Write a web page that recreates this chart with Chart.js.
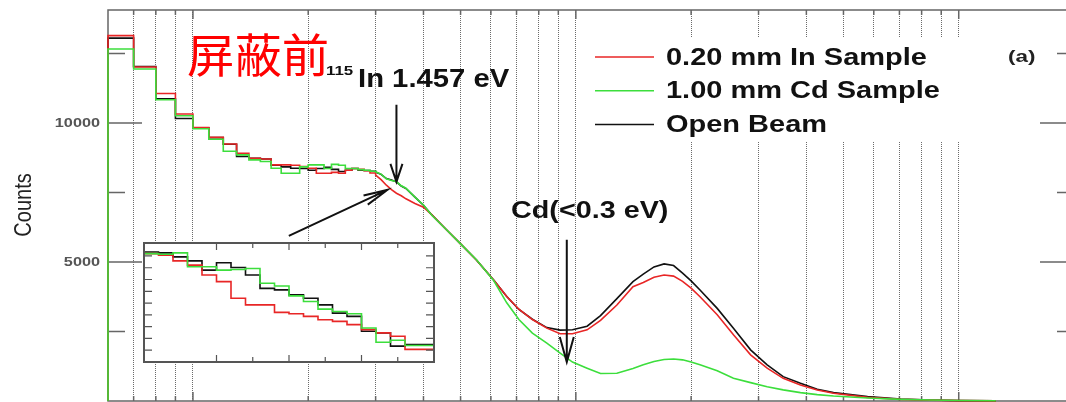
<!DOCTYPE html>
<html lang="zh">
<head>
    <meta charset="UTF-8">
    <title>屏蔽前 Counts</title>
    <script src="https://cdn.jsdelivr.net/npm/chart.js"></script>
    <style>
        body { margin: 0; padding: 0; background: #fff; overflow: hidden; }
        .main { position: relative; width: 1080px; height: 402px; }
        .inset { position: absolute; left: 143px; top: 242px; width: 293px; height: 121px; background: #fff; }
    </style>
</head>
<body>
    <div class="main"><canvas id="spectrum"></canvas></div>
    <div class="inset"><canvas id="zoomChart"></canvas></div>

    <script>
        // histogram bins (width 0.1) on the left part of the spectrum
        const binEdges = [0.6, 0.7, 0.8, 0.9, 1.0, 1.1, 1.2, 1.3, 1.4, 1.5, 1.6, 1.7, 1.8, 1.9,
            2.0, 2.1, 2.2, 2.3, 2.4, 2.5, 2.6, 2.7, 2.8, 2.9, 3.0];
        const redBins = [13140, 12010, 11060, 10320, 9830, 9480, 9240, 8910, 8730, 8700, 8490, 8490,
            8480, 8430, 8370, 8190, 8190, 8220, 8190, 8300, 8360, 8330, 8280, 8200];
        const greenBins = [12660, 11940, 10830, 10260, 9790, 9410, 8980, 8850, 8670, 8610, 8370, 8190,
            8190, 8420, 8490, 8490, 8360, 8510, 8480, 8360, 8360, 8320, 8300, 8260];
        const blackBins = [13050, 12030, 10870, 10160, 9820, 9470, 9230, 8790, 8730, 8700, 8480, 8420,
            8370, 8360, 8300, 8360, 8400, 8330, 8250, 8300, 8360, 8300, 8290, 8260];

        // finer part, read as a curve
        const tailX = [3.0, 3.1, 3.2, 3.3, 3.4, 3.5, 3.6, 3.8, 4.0, 4.2, 4.6, 5.0, 5.5, 6.1, 6.6, 7.1,
            7.7, 8.4, 9.1, 9.8, 10.7, 11.6, 12.8, 14.1, 15, 16, 17, 18, 19, 20, 21.1, 23.4, 25.8,
            28.6, 31.6, 34.8, 38.6, 42.7, 47.1, 57.8, 70.5, 84.5, 101, 125];
        const redTail = [8120, 7960, 7760, 7600, 7470, 7380, 7270, 7100, 6970, 6700, 6150, 5650, 5070,
            4350, 3760, 3300, 2930, 2620, 2420, 2420, 2560, 2900, 3450, 4110, 4260, 4450, 4530, 4490,
            4300, 4060, 3750, 3100, 2380, 1660, 1180, 815, 575, 395, 276, 132, 60, 30, 15, 5];
        const greenTail = [8240, 8160, 7990, 7930, 7890, 7740, 7650, 7330, 7050, 6690, 6150, 5650, 5080,
            4330, 3530, 2930, 2440, 2080, 1720, 1400, 1180, 990, 1000, 1170, 1300, 1420, 1490, 1510,
            1480, 1400, 1300, 1090, 820, 660, 515, 400, 300, 230, 180, 108, 60, 35, 20, 8];
        const blackTail = [8230, 8150, 8000, 7950, 7880, 7730, 7640, 7330, 7040, 6700, 6150, 5650, 5070,
            4350, 3760, 3290, 2940, 2640, 2550, 2560, 2690, 3070, 3680, 4290, 4560, 4820, 4930, 4870,
            4600, 4320, 3990, 3330, 2620, 1840, 1300, 875, 635, 420, 300, 156, 72, 35, 15, 5];

        // inset: zoom on the 115In dip, 20 bins
        const insetRed = [8292, 8320, 8306, 8258, 8222, 8138, 8082, 7941, 7885, 7885, 7821, 7810, 7787,
            7759, 7745, 7717, 7675, 7647, 7619, 7507];
        const insetGreen = [8354, 8320, 8315, 8326, 8208, 8208, 8180, 8185, 8194, 8068, 8045, 7961, 7913,
            7849, 7829, 7810, 7689, 7568, 7585, 7540];
        const insetBlack = [8343, 8334, 8326, 8292, 8258, 8180, 8242, 8202, 8138, 8025, 8012, 7970, 7941,
            7885, 7815, 7787, 7661, 7647, 7535, 7549];

        const xGridTicks = [0.7, 0.8, 0.9, 1, 2, 3, 4, 5, 6, 7, 8, 9, 10, 20, 30, 40, 50, 60, 70, 80, 90, 100];
        const yTicks = [0, 2500, 5000, 7500, 10000, 12500];
        const insetXTicks = [5, 7.5, 10, 12.5, 15, 17.5];
        const insetYTicks = [7500, 7600, 7700, 7800, 7900, 8000, 8100, 8200, 8300];

        const seriesNames = ['0.20 mm In Sample', '1.00 mm Cd Sample', 'Open Beam'];
        const RED = 'rgb(232,38,38)', GREEN = 'rgb(60,222,60)', BLACK = '#111';

        Chart.defaults.font.family = '"Liberation Sans", Arial, sans-serif';

        function histPoints(bins, tail) {
            const pts = [{ x: binEdges[0], y: 0 }];
            bins.forEach((c, i) => {
                pts.push({ x: binEdges[i], y: c });
                pts.push({ x: binEdges[i + 1], y: c });
            });
            tailX.forEach((x, i) => pts.push({ x: x, y: tail[i] }));
            return pts;
        }

        function stretchText(ctx, text, x, y, font, color, sx, align) {
            ctx.save();
            ctx.font = font;
            ctx.fillStyle = color;
            ctx.textAlign = align || 'left';
            ctx.textBaseline = 'alphabetic';
            ctx.translate(x, y);
            ctx.scale(sx, 1);
            ctx.fillText(text, 0, 0);
            ctx.restore();
        }

        function arrow(ctx, x1, y1, x2, y2, head, half) {
            const ang = Math.atan2(y2 - y1, x2 - x1);
            const bx = x2 - head * Math.cos(ang), by = y2 - head * Math.sin(ang);
            const nx = -Math.sin(ang) * half, ny = Math.cos(ang) * half;
            ctx.beginPath();
            ctx.moveTo(x1, y1); ctx.lineTo(x2, y2);
            ctx.moveTo(bx + nx, by + ny); ctx.lineTo(x2, y2); ctx.lineTo(bx - nx, by - ny);
            ctx.stroke();
        }

        // frame + inward tick marks, under the data
        const frameTicks = {
            id: 'frameTicks',
            beforeDatasetsDraw(chart) {
                const { ctx, chartArea: a, scales: { x, y } } = chart;
                ctx.save();
                ctx.strokeStyle = '#666';
                ctx.lineWidth = 1.5;
                ctx.strokeRect(a.left, a.top, a.right - a.left, a.bottom - a.top);
                ctx.beginPath();
                xGridTicks.forEach(v => {
                    const px = x.getPixelForValue(v);
                    const lg = Math.log10(v);
                    const len = Math.abs(lg - Math.round(lg)) < 1e-9 ? 9 : 5;
                    ctx.moveTo(px, a.top); ctx.lineTo(px, a.top + len);
                    ctx.moveTo(px, a.bottom); ctx.lineTo(px, a.bottom - len);
                });
                yTicks.forEach(v => {
                    if (v === 0) return;
                    const py = y.getPixelForValue(v);
                    const len = v % 5000 === 0 ? 34 : 17;
                    ctx.moveTo(a.left, py); ctx.lineTo(a.left + len, py);
                    ctx.moveTo(a.right, py); ctx.lineTo(a.right - len, py);
                });
                ctx.stroke();
                ctx.restore();
            },
            afterDraw(chart) {
                const { ctx, chartArea: a, scales: { y } } = chart;
                yTicks.forEach(v => {
                    if (v === 0 || v % 5000 !== 0) return;
                    const py = y.getPixelForValue(v);
                    stretchText(ctx, String(v), a.left - 8, py + 4.5, 'bold 13px "Liberation Sans"', '#555', 1.25, 'right');
                });
                ctx.save();
                ctx.font = '20px "Liberation Sans"';
                ctx.fillStyle = '#222';
                ctx.textAlign = 'center';
                ctx.textBaseline = 'middle';
                ctx.translate(24, 205);
                ctx.scale(1.2, 1);
                ctx.rotate(-Math.PI / 2);
                ctx.fillText('Counts', 0, 0);
                ctx.restore();
            }
        };

        // legend, labels and arrows
        const notes = {
            id: 'notes',
            afterDatasetsDraw(chart) {
                const { ctx, scales: { x, y } } = chart;
                ctx.save();
                // legend box hides the grid
                ctx.fillStyle = '#fff';
                ctx.fillRect(588, 38, 378, 104);
                const colors = [RED, GREEN, BLACK];
                seriesNames.forEach((name, i) => {
                    const ly = 57 + i * 33.8;
                    ctx.strokeStyle = colors[i];
                    ctx.lineWidth = 1.5;
                    ctx.beginPath(); ctx.moveTo(595, ly); ctx.lineTo(654, ly); ctx.stroke();
                    stretchText(ctx, name, 666, ly + 7.5, 'bold 23px "Liberation Sans"', '#111', 1.26);
                });
                stretchText(ctx, '(a)', 1008, 62, 'bold 16px "Liberation Sans"', '#222', 1.4);

                stretchText(ctx, '屏蔽前', 187, 72, '46px "Noto Sans CJK SC"', '#ff0000', 1.03);
                stretchText(ctx, '115', 326, 75, 'bold 13px "Liberation Sans"', '#111', 1.3);
                stretchText(ctx, 'In 1.457 eV', 358, 87, 'bold 25px "Liberation Sans"', '#111', 1.17);
                stretchText(ctx, 'Cd(<0.3 eV)', 511, 218, 'bold 23px "Liberation Sans"', '#111', 1.25);

                ctx.strokeStyle = '#111';
                ctx.lineWidth = 2;
                arrow(ctx, x.getPixelForValue(3.4), y.getPixelForValue(10650),
                    x.getPixelForValue(3.4), y.getPixelForValue(7880), 18, 6);
                arrow(ctx, x.getPixelForValue(1.78), y.getPixelForValue(5935),
                    x.getPixelForValue(3.22), y.getPixelForValue(7590), 24, 5);
                arrow(ctx, x.getPixelForValue(9.47), y.getPixelForValue(5800),
                    x.getPixelForValue(9.47), y.getPixelForValue(1400), 25, 7);
                ctx.restore();
            }
        };

        const lineStyle = { pointRadius: 0, pointHoverRadius: 0, borderWidth: 1.6, tension: 0, fill: false, clip: false };

        new Chart(document.getElementById('spectrum'), {
            type: 'line',
            data: {
                datasets: [
                    Object.assign({ label: seriesNames[1], data: histPoints(greenBins, greenTail), borderColor: GREEN }, lineStyle),
                    Object.assign({ label: seriesNames[0], data: histPoints(redBins, redTail), borderColor: RED }, lineStyle),
                    Object.assign({ label: seriesNames[2], data: histPoints(blackBins, blackTail), borderColor: BLACK }, lineStyle)
                ]
            },
            options: {
                responsive: true,
                maintainAspectRatio: false,
                animation: false,
                events: [],
                layout: { padding: { top: 10, right: 6, left: 0, bottom: 0 } },
                scales: {
                    x: {
                        type: 'logarithmic',
                        min: 0.6,
                        max: 200,
                        afterBuildTicks: s => { s.ticks = xGridTicks.map(v => ({ value: v })); },
                        afterFit: s => { s.height = 1; },
                        ticks: { display: false },
                        grid: { color: 'rgba(70,70,70,0.8)', lineWidth: 1, drawTicks: false },
                        border: { display: false, dash: [1, 1] }
                    },
                    y: {
                        min: 0,
                        max: 14060,
                        afterBuildTicks: s => { s.ticks = yTicks.map(v => ({ value: v })); },
                        afterFit: s => { s.width = 108; },
                        ticks: { display: false },
                        grid: { display: false },
                        border: { display: false }
                    }
                },
                plugins: { legend: { display: false }, tooltip: { enabled: false } }
            },
            plugins: [frameTicks, notes]
        });

        // inset chart
        function stepPoints(bins) {
            const pts = bins.map((v, i) => ({ x: i, y: v }));
            pts.push({ x: bins.length, y: bins[bins.length - 1] });
            return pts;
        }

        const insetFrame = {
            id: 'insetFrame',
            afterDatasetsDraw(chart) {
                const { ctx, width, height, scales: { x, y } } = chart;
                ctx.save();
                ctx.strokeStyle = '#555';
                ctx.lineWidth = 2;
                ctx.strokeRect(1, 1, width - 3, height - 2);
                ctx.lineWidth = 1.2;
                ctx.beginPath();
                insetXTicks.forEach(v => {
                    const px = x.getPixelForValue(v);
                    const len = v % 5 === 0 ? 6 : 4;
                    ctx.moveTo(px, 2); ctx.lineTo(px, 2 + len);
                    ctx.moveTo(px, height - 2); ctx.lineTo(px, height - 2 - len);
                });
                insetYTicks.forEach(v => {
                    const py = y.getPixelForValue(v);
                    ctx.moveTo(2, py); ctx.lineTo(9, py);
                    ctx.moveTo(width - 3, py); ctx.lineTo(width - 10, py);
                });
                ctx.stroke();
                ctx.restore();
            }
        };

        const insetStyle = { pointRadius: 0, borderWidth: 1.6, stepped: 'after', fill: false };

        new Chart(document.getElementById('zoomChart'), {
            type: 'line',
            data: {
                datasets: [
                    Object.assign({ data: stepPoints(insetGreen), borderColor: GREEN }, insetStyle),
                    Object.assign({ data: stepPoints(insetRed), borderColor: RED }, insetStyle),
                    Object.assign({ data: stepPoints(insetBlack), borderColor: BLACK }, insetStyle)
                ]
            },
            options: {
                responsive: true,
                maintainAspectRatio: false,
                animation: false,
                events: [],
                layout: { padding: { left: 1, right: 2, top: 1, bottom: 1 } },
                scales: {
                    x: { type: 'linear', min: 0, max: 20, display: false },
                    y: { min: 7400, max: 8410, display: false }
                },
                plugins: { legend: { display: false }, tooltip: { enabled: false } }
            },
            plugins: [insetFrame]
        });
    </script>
</body>
</html>
